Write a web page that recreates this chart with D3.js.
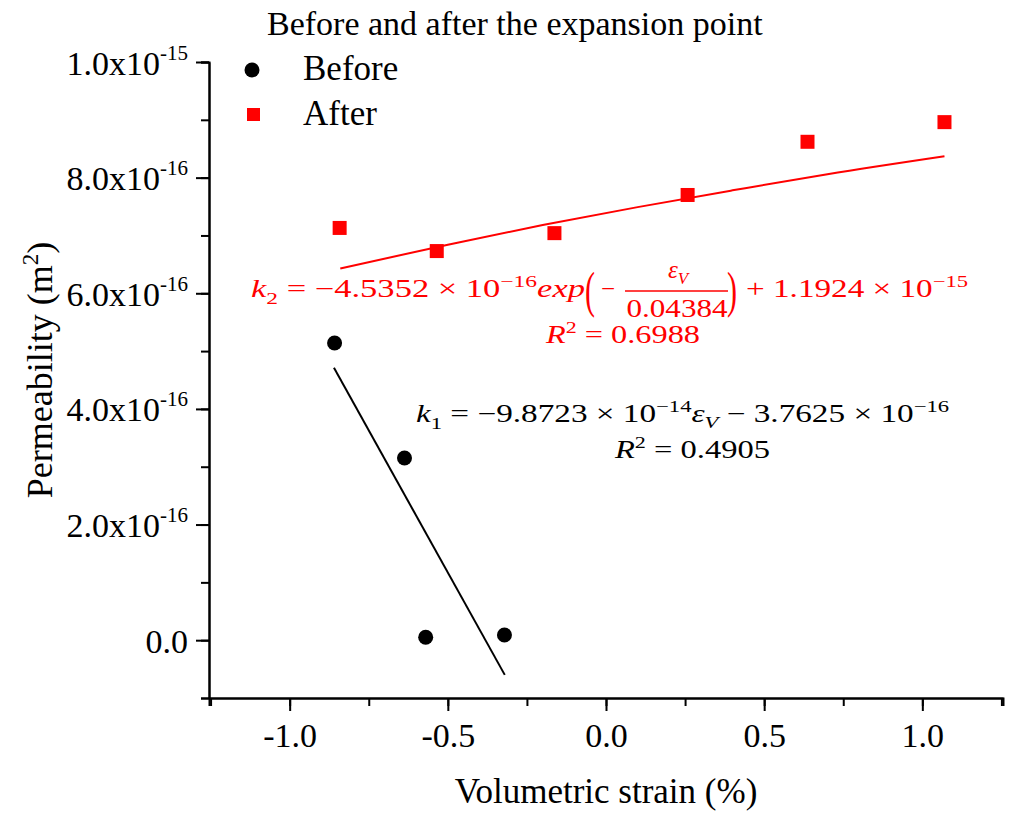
<!DOCTYPE html>
<html>
<head>
<meta charset="utf-8">
<script src="https://cdn.jsdelivr.net/npm/d3@7"></script>
<style>
  body { margin: 0; background: #fff; }
  text { font-family: "Liberation Serif", "Times New Roman", serif; }
</style>
</head>
<body>
<div id="chart"></div>
<script>
// ---- data (strain in %, permeability in units of 1e-16 m^2) ----
const beforeStrain = [-0.858, -0.637, -0.570, -0.321];
const beforePerm = [5.14, 3.15, 0.05, 0.09];
const afterStrain = [-0.842, -0.535, -0.163, 0.258, 0.637, 1.070];
const afterPerm = [7.13, 6.73, 7.04, 7.70, 8.62, 8.96];
// fitted lines
const fit1Strain = [-0.86, -0.32];
const fit1Perm = [4.71, -0.60];
const fit2Strain = [-0.84, -0.5, -0.2, 0.1, 0.4, 0.7, 1.07];
const fit2Perm = [6.43, 6.84, 7.18, 7.49, 7.78, 8.06, 8.37];
// tick labels
const xTicks = [-1.0, -0.5, 0.0, 0.5, 1.0];
const yTicks = [0, 2, 4, 6, 8, 10];
const yTickMant = ["0.0", "2.0x10", "4.0x10", "6.0x10", "8.0x10", "1.0x10"];
const yTickExp = ["", "-16", "-16", "-16", "-16", "-15"];

const width = 1010, height = 816;
const plot = {left: 209, right: 1003, top: 62, bottom: 698};

const svg = d3.select("#chart").append("svg")
  .attr("width", width).attr("height", height);

const x = d3.scaleLinear().domain([-1.255, 1.255]).range([plot.left, plot.right]);
const y = d3.scaleLinear().domain([-1, 10]).range([plot.bottom, plot.top]);

// ---- axes ----
const minorX = d3.range(-1.25, 1.26, 0.25);
svg.append("g").attr("transform", `translate(0,${plot.bottom})`)
  .call(d3.axisBottom(x).tickValues(minorX).tickSize(8).tickFormat(""));
const gx = svg.append("g").attr("transform", `translate(0,${plot.bottom})`)
  .call(d3.axisBottom(x).tickValues(xTicks).tickSize(13).tickFormat("").tickSizeOuter(0));
gx.selectAll(".tick").append("text")
  .attr("y", 49).attr("text-anchor", "middle").attr("fill", "#000")
  .attr("font-size", 34)
  .text(d => d3.format(".1f")(d).replace("−", "-"));

const minorY = d3.range(-1, 10.5, 1);
svg.append("g").attr("transform", `translate(${plot.left},0)`)
  .call(d3.axisLeft(y).tickValues(minorY).tickSize(8).tickFormat(""));
const gy = svg.append("g").attr("transform", `translate(${plot.left},0)`)
  .call(d3.axisLeft(y).tickValues(yTicks).tickSize(13).tickFormat("").tickSizeOuter(0));
gy.selectAll(".tick").append("text")
  .attr("x", -21).attr("y", 12)
  .attr("text-anchor", "end").attr("fill", "#000")
  .attr("font-size", 34)
  .each(function(d, i) {
    const t = d3.select(this);
    t.append("tspan").text(yTickMant[i]);
    if (yTickExp[i]) {
      t.append("tspan").attr("font-size", 21).attr("dy", -15).text(yTickExp[i]);
    }
  });
svg.selectAll(".domain").attr("stroke", "#000").attr("stroke-width", 2);
svg.selectAll(".tick line").attr("stroke", "#000").attr("stroke-width", 2);

// axis titles
svg.append("text")
  .attr("x", 606).attr("y", 803)
  .attr("text-anchor", "middle").attr("font-size", 35)
  .text("Volumetric strain (%)");
const yt = svg.append("text")
  .attr("transform", "translate(52,370) rotate(-90)")
  .attr("text-anchor", "middle").attr("font-size", 36);
yt.append("tspan").text("Permeability (m");
yt.append("tspan").attr("font-size", 23).attr("dy", -14).text("2");
yt.append("tspan").attr("dy", 14).text(")");

// ---- fit lines ----
const line = d3.line().x(d => x(d[0])).y(d => y(d[1])).curve(d3.curveMonotoneX);
svg.append("path")
  .datum(d3.zip(fit1Strain, fit1Perm))
  .attr("d", line).attr("fill", "none").attr("stroke", "#000").attr("stroke-width", 2);
svg.append("path")
  .datum(d3.zip(fit2Strain, fit2Perm))
  .attr("d", line).attr("fill", "none").attr("stroke", "#ff0000").attr("stroke-width", 2);

// ---- points ----
svg.selectAll(".before").data(d3.zip(beforeStrain, beforePerm)).join("circle")
  .attr("cx", d => x(d[0])).attr("cy", d => y(d[1])).attr("r", 7.5).attr("fill", "#000");
svg.selectAll(".after").data(d3.zip(afterStrain, afterPerm)).join("rect")
  .attr("x", d => x(d[0]) - 7).attr("y", d => y(d[1]) - 7)
  .attr("width", 14).attr("height", 14).attr("fill", "#ff0000");

// ---- legend ----
svg.append("text").attr("x", 267).attr("y", 35).attr("font-size", 34)
  .text("Before and after the expansion point");
svg.append("circle").attr("cx", 252).attr("cy", 70).attr("r", 7.5).attr("fill", "#000");
svg.append("text").attr("x", 303).attr("y", 80).attr("font-size", 35).text("Before");
svg.append("rect").attr("x", 247).attr("y", 108).attr("width", 13).attr("height", 13).attr("fill", "#ff0000");
svg.append("text").attr("x", 303).attr("y", 125).attr("font-size", 35).text("After");

// ---- equations ----
const eqFont = "DejaVu Serif";
const red = "#ff0000";
function eqText(g, xPos, yPos, parts, len) {
  const t = g.append("text").attr("x", xPos).attr("y", yPos)
    .attr("font-family", eqFont).attr("font-size", 25);
  parts.forEach(p => {
    const s = t.append("tspan").text(p.t);
    if (p.i) s.attr("font-style", "italic");
    if (p.small) s.attr("font-size", 17);
    if (p.dy) s.attr("dy", p.dy);
  });
  if (len) t.attr("textLength", len).attr("lengthAdjust", "spacingAndGlyphs");
  return t;
}

const eq2 = svg.append("g").attr("fill", red);
eqText(eq2, 251, 297, [
  {t: "k", i: true}, {t: "2", small: true, dy: 7}, {t: " = −4.5352 × 10", dy: -7},
  {t: "−16", small: true, dy: -10}, {t: "exp", i: true, dy: 10}
], 334);
eq2.append("text").attr("x", 585).attr("y", 307).attr("font-family", eqFont)
  .attr("font-size", 50).attr("font-weight", 100)
  .attr("transform", "translate(585,307) scale(0.6,1) translate(-585,-307)").text("(");
eq2.append("text").attr("x", 601).attr("y", 297).attr("font-family", eqFont)
  .attr("font-size", 25).text("−");
eq2.append("line").attr("x1", 625).attr("x2", 728).attr("y1", 291).attr("y2", 291)
  .attr("stroke", red).attr("stroke-width", 1.5);
const num = eq2.append("text").attr("x", 678).attr("y", 278).attr("text-anchor", "middle")
  .attr("font-family", eqFont).attr("font-size", 25);
num.append("tspan").attr("font-style", "italic").text("ε");
num.append("tspan").attr("font-style", "italic").attr("font-size", 17).attr("dy", 6).text("V");
eq2.append("text").attr("x", 677).attr("y", 317).attr("text-anchor", "middle")
  .attr("font-family", eqFont).attr("font-size", 25)
  .attr("textLength", 101).attr("lengthAdjust", "spacingAndGlyphs").text("0.04384");
eq2.append("text").attr("x", 727).attr("y", 307).attr("font-family", eqFont)
  .attr("font-size", 50).attr("font-weight", 100)
  .attr("transform", "translate(727,307) scale(0.6,1) translate(-727,-307)").text(")");
eqText(eq2, 746, 297, [
  {t: "+ 1.1924 × 10"}, {t: "−15", small: true, dy: -10}
], 222);
eqText(eq2, 546, 343, [
  {t: "R", i: true}, {t: "2", small: true, dy: -10}, {t: " = 0.6988", dy: 10}
], 154);

const eq1 = svg.append("g").attr("fill", "#000");
eqText(eq1, 416, 422, [
  {t: "k", i: true}, {t: "1", small: true, dy: 7}, {t: " = −9.8723 × 10", dy: -7},
  {t: "−14", small: true, dy: -10}, {t: "ε", i: true, dy: 10},
  {t: "V", i: true, small: true, dy: 6}, {t: " − 3.7625 × 10", dy: -6},
  {t: "−16", small: true, dy: -10}
], 533);
eqText(eq1, 615, 458, [
  {t: "R", i: true}, {t: "2", small: true, dy: -10}, {t: " = 0.4905", dy: 10}
], 155);
</script>
</body>
</html>
